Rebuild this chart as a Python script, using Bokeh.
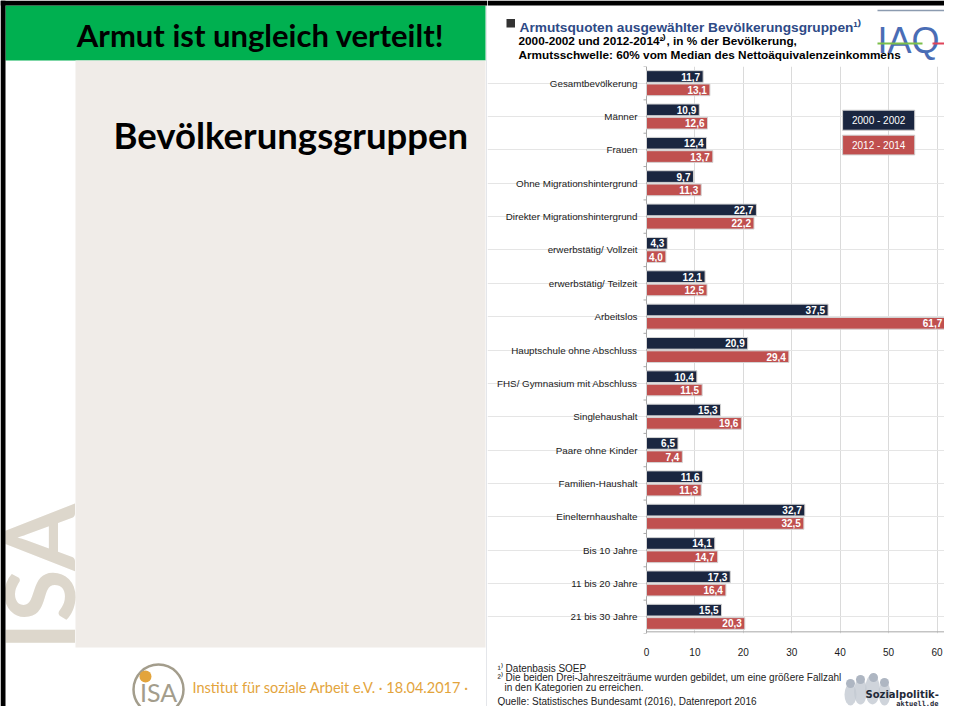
import math
from bokeh.plotting import figure
from bokeh.layouts import row, column
from bokeh.models import Range1d, FactorRange, FixedTicker, ColumnDataSource
from bokeh.transform import dodge
from bokeh.core.properties import value
from bokeh.embed import file_html
from bokeh.resources import INLINE

# ---------------- data ----------------
categories = [
    "Gesamtbevölkerung", "Männer", "Frauen", "Ohne Migrationshintergrund",
    "Direkter Migrationshintergrund", "erwerbstätig/ Vollzeit", "erwerbstätig/ Teilzeit",
    "Arbeitslos", "Hauptschule ohne Abschluss", "FHS/ Gymnasium mit Abschluss",
    "Singlehaushalt", "Paare ohne Kinder", "Familien-Haushalt", "Einelternhaushalte",
    "Bis 10 Jahre", "11 bis 20 Jahre", "21 bis 30 Jahre",
]
values_2000_2002 = [11.7, 10.9, 12.4, 9.7, 22.7, 4.3, 12.1, 37.5, 20.9, 10.4, 15.3, 6.5, 11.6, 32.7, 14.1, 17.3, 15.5]
values_2012_2014 = [13.1, 12.6, 13.7, 11.3, 22.2, 4.0, 12.5, 61.7, 29.4, 11.5, 19.6, 7.4, 11.3, 32.5, 14.7, 16.4, 20.3]
series_names = ["2000 - 2002", "2012 - 2014"]
x_ticks = [0, 10, 20, 30, 40, 50, 60]

DARK = "#1a2640"
RED = "#c0504f"
AXIS = "#a8a8a8"
AR = value("Liberation Sans")
LATO = value("Lato")

W_TOTAL, H_TOTAL = 944, 706
X_SPLIT = 487


def fmt(v):
    return f"{v:.1f}".replace(".", ",")


def canvas(w, h, x0, x1, y0, y1):
    return figure(width=w, height=h, x_range=Range1d(x0, x1), y_range=Range1d(y1, y0),
                  x_axis_type=None, y_axis_type=None, min_border=0, toolbar_location=None,
                  output_backend="svg", outline_line_color=None,
                  background_fill_color="white", border_fill_color="white")


# ---------------- left slide part ----------------
L = canvas(X_SPLIT, H_TOTAL, 0, X_SPLIT, 0, H_TOTAL)
L.quad(left=[5], right=[485], top=[5], bottom=[60], fill_color="#00b050", line_color=None)
L.quad(left=[75], right=[485], top=[60], bottom=[647], fill_color="#f0ece8", line_color=None)
L.segment(x0=[486.5], y0=[5], x1=[486.5], y1=[H_TOTAL], line_color="#c8ccd4", line_width=1)
L.text(x=[36.5], y=[650], text=["ISA"], angle=math.pi / 2, text_font=LATO,
       text_font_size="96px", text_font_style="bold", text_color="#ddd7cc",
       text_align="left", text_baseline="middle")
L.quad(left=[0], right=[X_SPLIT], top=[0], bottom=[5], fill_color="black", line_color=None)
L.quad(left=[0], right=[5], top=[0], bottom=[H_TOTAL], fill_color="black", line_color=None)
L.text(x=[260], y=[34], text=["Armut ist ungleich verteilt!"], text_font=LATO,
       text_font_size="31px", text_font_style="bold", text_color="black",
       text_align="center", text_baseline="middle")
L.text(x=[113], y=[134], text=["Bevölkerungsgruppen"], text_font=LATO,
       text_font_size="36.5px", text_font_style="bold", text_color="black",
       text_align="left", text_baseline="middle")
# ISA logo
L.circle(x=[158], y=[689], radius=25, fill_color=None, line_color="#a39d8c", line_width=2.5)
L.circle(x=[145], y=[676], radius=6, fill_color="#e3a43c", line_color=None)
L.text(x=[158], y=[691], text=["ISA"], text_font=LATO, text_font_size="25px",
       text_color="#a39d8c", text_align="center", text_baseline="middle")
L.text(x=[192], y=[687], text=["Institut für soziale Arbeit e.V. · 18.04.2017 ·"],
       text_font=LATO, text_font_size="14.5px", text_color="#e3a43c",
       text_align="left", text_baseline="middle")

# ---------------- right: title block (ref y 0..66) ----------------
RW = W_TOTAL - X_SPLIT
T = canvas(RW, 66, X_SPLIT, W_TOTAL, 0, 66)
T.quad(left=[X_SPLIT], right=[W_TOTAL], top=[0], bottom=[5], fill_color="black", line_color=None)
T.quad(left=[506], right=[514.5], top=[18.5], bottom=[27], fill_color="#333333", line_color=None)
T.text(x=[519], y=[27], text=["Armutsquoten ausgewählter Bevölkerungsgruppen¹⁾"], text_font=AR,
       text_font_size="13.7px", text_font_style="bold", text_color="#2e4a86",
       text_align="left", text_baseline="alphabetic")
T.text(x=[518, 518], y=[40, 54.5],
       text=["2000-2002 und 2012-2014²⁾, in % der Bevölkerung,",
             "Armutsschwelle: 60% vom Median des Nettoäquivalenzeinkommens"],
       text_font=AR, text_font_size="11.8px", text_font_style="bold", text_color="black",
       text_align="left", text_baseline="alphabetic")
# IAQ logo
T.segment(x0=[877], y0=[10], x1=[944], y1=[10], line_color="#8c9bb0", line_width=1.5)
T.text(x=[877], y=[39.5], text=["IAQ"], text_font=AR, text_font_size="36px",
       text_color="#4a6db5", text_align="left", text_baseline="alphabetic")
T.segment(x0=[877], y0=[43], x1=[922], y1=[43], line_color="#7dbf4b", line_width=2)
T.segment(x0=[932], y0=[43], x1=[944], y1=[43], line_color="#e0455a", line_width=2)

# ---------------- right: chart ----------------
PX = 4.8417          # pixels per percent point
ZERO_X = 646         # reference pixel of the value 0
src = ColumnDataSource(dict(
    cat=categories, v1=values_2000_2002, v2=values_2012_2014,
    t1=[fmt(v) for v in values_2000_2002], t2=[fmt(v) for v in values_2012_2014],
))
C = figure(width=RW, height=592,
           x_range=Range1d(-(ZERO_X - X_SPLIT) / PX, (W_TOTAL - ZERO_X) / PX),
           y_range=FactorRange(factors=list(reversed(categories)), range_padding=0),
           y_axis_location=None,
           min_border_left=0, min_border_right=0, min_border_top=0, min_border_bottom=22,
           toolbar_location=None, output_backend="svg", outline_line_color=None,
           background_fill_color="white", border_fill_color="white")
C.xaxis.ticker = FixedTicker(ticks=x_ticks)
C.xaxis.axis_line_color = None
C.xaxis.major_tick_line_color = None
C.xaxis.minor_tick_line_color = None
C.xaxis.major_label_text_font = "Liberation Sans"
C.xaxis.major_label_text_font_size = "10px"
C.xaxis.major_label_text_color = "#1a1a1a"
C.xaxis.major_label_standoff = 8
C.xgrid.ticker = FixedTicker(ticks=x_ticks[1:])
C.xgrid.grid_line_color = "#dadada"

n = len(categories)
# axis lines and category boundary ticks
C.segment(x0=[0], y0=[0], x1=[0], y1=[n], line_color=AXIS, line_width=1)
C.segment(x0=[0], y0=[0.05], x1=[C.x_range.end], y1=[0.05], line_color=AXIS, line_width=1)
C.segment(x0=[-3 / PX] * (n + 1), y0=list(range(n + 1)), x1=[0] * (n + 1), y1=list(range(n + 1)),
          line_color=AXIS, line_width=1)
# category labels
C.text(x=0, y="cat", text="cat", source=src, x_offset=-9, text_font=AR,
       text_font_size="9.8px", text_color="#1a1a1a", text_align="right", text_baseline="middle")

C.hbar(y=dodge("cat", 0.2, range=C.y_range), right="v1", left=0, height=0.35, source=src,
       fill_color=DARK, line_color="#d4d4d4", line_width=1)
C.hbar(y=dodge("cat", -0.2, range=C.y_range), right="v2", left=0, height=0.35, source=src,
       fill_color=RED, line_color="#d4d4d4", line_width=1)
C.text(x="v1", y=dodge("cat", 0.2, range=C.y_range), text="t1", source=src, x_offset=-3,
       text_font=AR, text_font_size="10px", text_font_style="bold", text_color="white",
       text_align="right", text_baseline="middle")
C.text(x="v2", y=dodge("cat", -0.2, range=C.y_range), text="t2", source=src, x_offset=-3,
       text_font=AR, text_font_size="10px", text_font_style="bold", text_color="white",
       text_align="right", text_baseline="middle")
# legend boxes
C.quad(left=[40.5, 40.5], right=[55.4, 55.4], top=[15.69, 14.94], bottom=[15.09, 14.35],
       fill_color=[DARK, RED], line_color="#cfcfcf", line_width=1)
C.text(x=[47.95, 47.95], y=[15.39, 14.645], text=series_names, text_font=AR,
       text_font_size="10px", text_color="white", text_align="center", text_baseline="middle")

# ---------------- right: footnotes (ref y 658..706) ----------------
F = canvas(RW, 48, X_SPLIT, W_TOTAL, 658, H_TOTAL)
F.text(x=[497, 497, 504, 497], y=[667.5, 677, 686.5, 700.5],
       text=["¹⁾ Datenbasis SOEP",
             "²⁾ Die beiden Drei-Jahreszeiträume wurden gebildet, um eine größere Fallzahl",
             "in den Kategorien zu erreichen.",
             "Quelle: Statistisches Bundesamt (2016), Datenreport 2016"],
       text_font=AR, text_font_size="10px", text_color="#222222",
       text_align="left", text_baseline="alphabetic")
# sozialpolitik-aktuell logo
F.ellipse(x=[850, 860, 872, 884], y=[694, 691, 689, 693], width=[12, 13, 15, 12],
          height=[22, 26, 30, 24], fill_color="#c3c9d2", line_color=None, fill_alpha=0.8)
F.circle(x=[850, 860, 873, 884], y=[683, 679, 677, 682], radius=4.5,
         fill_color="#aeb6c2", line_color=None)
F.text(x=[865], y=[694], text=["Sozialpolitik-"], text_font=value("DejaVu Sans"),
       text_font_size="10px", text_font_style="bold", text_color="#1f2a38",
       text_align="left", text_baseline="alphabetic")
F.text(x=[938], y=[703], text=["aktuell.de"], text_font=value("DejaVu Sans Mono"),
       text_font_size="7px", text_font_style="bold", text_color="#1f2a38",
       text_align="right", text_baseline="alphabetic")

layout = row(L, column(T, C, F, spacing=0), spacing=0)
open("out.html", "w").write(file_html(layout, INLINE))
